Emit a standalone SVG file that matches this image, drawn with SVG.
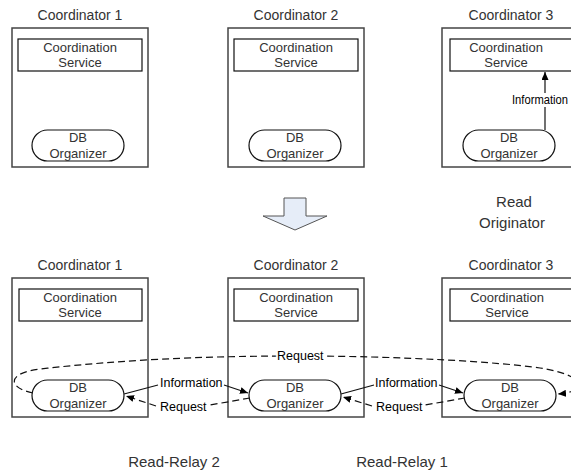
<svg xmlns="http://www.w3.org/2000/svg" width="571" height="470" viewBox="0 0 571 470">
  <style>
    .title { font-family: "Liberation Sans", Arial, sans-serif; font-size: 14px; fill: #333; text-anchor: middle; }
    .btxt { font-family: "Liberation Sans", Arial, sans-serif; font-size: 13px; fill: #333; text-anchor: middle; }
    .lbl { font-family: "Liberation Sans", Arial, sans-serif; font-size: 12.5px; fill: #000; }
    .knock { stroke: #fff; stroke-width: 4; paint-order: stroke; stroke-linejoin: round; }
    .outer { fill: #fff; stroke: #444; stroke-width: 1.5; }
    .svc { fill: #fff; stroke: #111; stroke-width: 1.2; }
    .pill { fill: #fff; stroke: #111; stroke-width: 1.2; }
    .solid { fill: none; stroke: #111; stroke-width: 1.2; }
    .dash { fill: none; stroke: #111; stroke-width: 1.2; stroke-dasharray: 7,4; }
    .cap { font-family: "Liberation Sans", Arial, sans-serif; font-size: 15px; fill: #333; text-anchor: middle; }
  </style>
  <defs>
    <marker id="ah" viewBox="0 0 8 7" refX="8" refY="3.5" markerWidth="8" markerHeight="7" markerUnits="userSpaceOnUse" orient="auto">
      <path d="M0,0 L8,3.5 L0,7 z" fill="#000"/>
    </marker>
  </defs>
  <rect width="571" height="470" fill="#fff"/>

  <!-- Top row -->
  <g id="top-coordinator-1">
    <text class="title" x="80" y="20">Coordinator 1</text>
    <rect class="outer" x="12" y="28" width="136" height="139"/>
    <g id="top-c1-service">
      <rect class="svc" x="18" y="39" width="124" height="32"/>
      <text class="btxt" x="80" y="52">Coordination</text>
      <text class="btxt" x="80" y="67">Service</text>
    </g>
    <g id="top-c1-db">
      <rect class="pill" x="32" y="130" width="92" height="31" rx="15.5"/>
      <text class="btxt" x="78" y="142">DB</text>
      <text class="btxt" x="78" y="158">Organizer</text>
    </g>
  </g>

  <g id="top-coordinator-2">
    <text class="title" x="296" y="20">Coordinator 2</text>
    <rect class="outer" x="228" y="28" width="136" height="139"/>
    <g id="top-c2-service">
      <rect class="svc" x="234" y="39" width="124" height="32"/>
      <text class="btxt" x="296" y="52">Coordination</text>
      <text class="btxt" x="296" y="67">Service</text>
    </g>
    <g id="top-c2-db">
      <rect class="pill" x="249" y="130" width="92" height="31" rx="15.5"/>
      <text class="btxt" x="295" y="142">DB</text>
      <text class="btxt" x="295" y="158">Organizer</text>
    </g>
  </g>

  <g id="top-coordinator-3">
    <text class="title" x="511" y="20">Coordinator 3</text>
    <rect class="outer" x="442" y="28" width="136" height="139"/>
    <g id="top-c3-service">
      <rect class="svc" x="450" y="39" width="124" height="32"/>
      <text class="btxt" x="506" y="52">Coordination</text>
      <text class="btxt" x="506" y="67">Service</text>
    </g>
    <g id="top-c3-db">
      <rect class="pill" x="463" y="130" width="92" height="31" rx="15.5"/>
      <text class="btxt" x="509" y="142">DB</text>
      <text class="btxt" x="509" y="158">Organizer</text>
    </g>
  </g>

  <text class="cap" x="514" y="207">Read</text>
  <text class="cap" x="512" y="228">Originator</text>

  <g id="transition-arrow">
    <polygon points="284,198 306,198 306,216 327,216 295,230 263,216 284,216" fill="#E6EDF8" stroke="#555" stroke-width="1"/>
  </g>

  <!-- Bottom row -->
  <g id="bottom-coordinator-1">
    <text class="title" x="80" y="270">Coordinator 1</text>
    <rect class="outer" x="12" y="278" width="136" height="139"/>
    <g id="bottom-c1-service">
      <rect class="svc" x="19" y="289" width="123" height="32"/>
      <text class="btxt" x="80" y="302">Coordination</text>
      <text class="btxt" x="80" y="317">Service</text>
    </g>
    <g id="bottom-c1-db">
      <rect class="pill" x="32" y="380" width="92" height="31" rx="15.5"/>
      <text class="btxt" x="78" y="392">DB</text>
      <text class="btxt" x="78" y="408">Organizer</text>
    </g>
  </g>

  <g id="bottom-coordinator-2">
    <text class="title" x="296" y="270">Coordinator 2</text>
    <rect class="outer" x="228" y="278" width="136" height="139"/>
    <g id="bottom-c2-service">
      <rect class="svc" x="234" y="289" width="124" height="32"/>
      <text class="btxt" x="296" y="302">Coordination</text>
      <text class="btxt" x="296" y="317">Service</text>
    </g>
    <g id="bottom-c2-db">
      <rect class="pill" x="249" y="380" width="92" height="31" rx="15.5"/>
      <text class="btxt" x="295" y="392">DB</text>
      <text class="btxt" x="295" y="408">Organizer</text>
    </g>
  </g>

  <g id="bottom-coordinator-3">
    <text class="title" x="511" y="270">Coordinator 3</text>
    <rect class="outer" x="442" y="278" width="136" height="139"/>
    <g id="bottom-c3-service">
      <rect class="svc" x="450" y="289" width="124" height="32"/>
      <text class="btxt" x="507" y="302">Coordination</text>
      <text class="btxt" x="507" y="317">Service</text>
    </g>
    <g id="bottom-c3-db">
      <rect class="pill" x="464" y="380" width="92" height="31" rx="15.5"/>
      <text class="btxt" x="510" y="392">DB</text>
      <text class="btxt" x="510" y="408">Organizer</text>
    </g>
  </g>

  <text class="cap" x="174" y="467">Read-Relay 2</text>
  <text class="cap" x="402" y="467">Read-Relay 1</text>

  <!-- Connectors -->
  <g id="connectors">
    <!-- top: C3 DB -> C3 service -->
    <path class="solid" d="M545,130 L545,72" marker-end="url(#ah)"/>
    <rect x="511" y="93" width="58" height="14" fill="#fff"/>
    <text class="lbl" x="512" y="104" textLength="56" lengthAdjust="spacingAndGlyphs">Information</text>

    <!-- bottom big request loop -->
    <path class="dash" d="M33,393 C8,388 6,373 40,369 C120,360 200,356 297,356 C400,356 500,362 540,368 C585,375 592,391 558,394" marker-end="url(#ah)"/>
    <text class="lbl knock" x="277" y="360">Request</text>

    <!-- C1 -> C2 information -->
    <path class="solid" d="M124,394 L158,385"/>
    <text class="lbl" x="160" y="387">Information</text>
    <path class="solid" d="M224,385 L248,393" marker-end="url(#ah)"/>
    <!-- C2 -> C1 request -->
    <path class="dash" d="M250,398 L210,405"/>
    <text class="lbl" x="160" y="411">Request</text>
    <path class="dash" d="M156,406 L126,396" marker-end="url(#ah)"/>

    <!-- C2 -> C3 information -->
    <path class="solid" d="M341,394 L374,385"/>
    <text class="lbl" x="375" y="387">Information</text>
    <path class="solid" d="M439,385 L463,393" marker-end="url(#ah)"/>
    <!-- C3 -> C2 request -->
    <path class="dash" d="M465,398 L425,405"/>
    <text class="lbl" x="376" y="411">Request</text>
    <path class="dash" d="M372,406 L343,397" marker-end="url(#ah)"/>
  </g>
</svg>
